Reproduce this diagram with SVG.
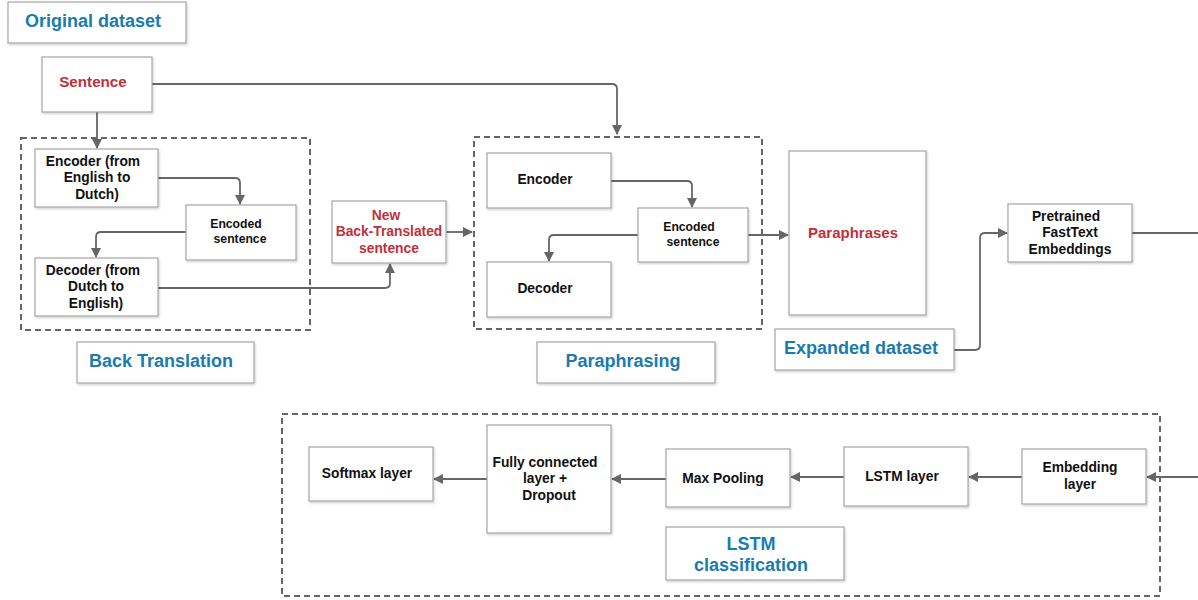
<svg xmlns="http://www.w3.org/2000/svg" width="1198" height="600" viewBox="0 0 1198 600">
<defs>
<style>
.box{fill:#fff;stroke:#a6a6a6;stroke-width:1.2;filter:url(#sh)}
.dash{fill:none;stroke:#666;stroke-width:2;stroke-dasharray:6 4}
.t{font-family:"Liberation Sans",Arial,sans-serif;font-weight:bold;text-anchor:middle;fill:#111}
.s13{font-size:13.8px}
.s11{font-size:12.2px}
.red{fill:#c0303b}
.blue{fill:#1a7bb0;font-size:18px}
.con{fill:none;stroke:#666;stroke-width:1.8;stroke-linejoin:round}
</style>
<filter id="sh" x="-10%" y="-10%" width="130%" height="130%">
<feDropShadow dx="1" dy="1.5" stdDeviation="1" flood-color="#000" flood-opacity="0.18"/>
</filter>
<marker id="ah" markerWidth="10" markerHeight="10" refX="9" refY="5" orient="auto" markerUnits="userSpaceOnUse">
<path d="M0,0 L10,5 L0,10 z" fill="#666"/>
</marker>
</defs>

<g id="frames">
<rect class="dash" x="21" y="138" width="289" height="192"/>
<rect class="dash" x="474" y="137" width="288" height="192"/>
<rect class="dash" x="282" y="414" width="878" height="182"/>
</g>

<g id="connectors">
<path class="con" d="M152 84 H612 Q617 84 617 89 V134" marker-end="url(#ah)"/>
<path class="con" d="M97 112 V148" marker-end="url(#ah)"/>
<path class="con" d="M158 178 H235 Q240 178 240 183 V204" marker-end="url(#ah)"/>
<path class="con" d="M186 232 H101 Q96 232 96 237 V257" marker-end="url(#ah)"/>
<path class="con" d="M158 288 H385 Q390 288 390 283 V264" marker-end="url(#ah)"/>
<path class="con" d="M446 232 H472" marker-end="url(#ah)"/>
<path class="con" d="M611 181 H687 Q692 181 692 186 V207" marker-end="url(#ah)"/>
<path class="con" d="M638 235 H554 Q549 235 549 240 V261" marker-end="url(#ah)"/>
<path class="con" d="M748 235 H788" marker-end="url(#ah)"/>
<path class="con" d="M954 350 H975 Q980 350 980 345 V238 Q980 233 985 233 H1007" marker-end="url(#ah)"/>
<path class="con" d="M1132 233 H1210 V477 H1147" marker-end="url(#ah)"/>
<path class="con" d="M1022 477 H969" marker-end="url(#ah)"/>
<path class="con" d="M844 477 H791" marker-end="url(#ah)"/>
<path class="con" d="M666 479 H612" marker-end="url(#ah)"/>
<path class="con" d="M487 479 H434" marker-end="url(#ah)"/>
</g>

<g id="original-dataset">
<rect class="box" x="8" y="2" width="178" height="41"/>
<text class="t blue" x="93" y="27">Original dataset</text>
</g>
<g id="sentence">
<rect class="box" x="42" y="57" width="110" height="55"/>
<text class="t red" font-size="15.2" x="93" y="87">Sentence</text>
</g>
<g id="encoder-bt">
<rect class="box" x="35" y="149" width="123" height="58"/>
<text class="t s13" x="93" y="166">Encoder (from</text>
<text class="t s13" x="97" y="182">English to</text>
<text class="t s13" x="97" y="199">Dutch)</text>
</g>
<g id="encoded-bt">
<rect class="box" x="186" y="205" width="110" height="55"/>
<text class="t s11" x="236" y="228">Encoded</text>
<text class="t s11" x="240" y="243">sentence</text>
</g>
<g id="decoder-bt">
<rect class="box" x="35" y="258" width="123" height="58"/>
<text class="t s13" x="93" y="275">Decoder (from</text>
<text class="t s13" x="96" y="291">Dutch to</text>
<text class="t s13" x="96" y="308">English)</text>
</g>
<g id="back-translated">
<rect class="box" x="332" y="201" width="114" height="62"/>
<text class="t red s13" x="386" y="220">New</text>
<text class="t red s13" x="389" y="236">Back-Translated</text>
<text class="t red s13" x="389" y="253">sentence</text>
</g>
<g id="back-translation-label">
<rect class="box" x="77" y="342" width="177" height="41"/>
<text class="t blue" x="161" y="367">Back Translation</text>
</g>
<g id="encoder-p">
<rect class="box" x="487" y="153" width="124" height="55"/>
<text class="t s13" x="545" y="184">Encoder</text>
</g>
<g id="encoded-p">
<rect class="box" x="638" y="208" width="110" height="54"/>
<text class="t s11" x="689" y="231">Encoded</text>
<text class="t s11" x="693" y="246">sentence</text>
</g>
<g id="decoder-p">
<rect class="box" x="487" y="262" width="124" height="55"/>
<text class="t s13" x="545" y="293">Decoder</text>
</g>
<g id="paraphrasing-label">
<rect class="box" x="537" y="342" width="178" height="41"/>
<text class="t blue" x="623" y="367">Paraphrasing</text>
</g>
<g id="paraphrases">
<rect class="box" x="789" y="151" width="137" height="164"/>
<text class="t red" font-size="15" x="853" y="238">Paraphrases</text>
</g>
<g id="expanded-dataset">
<rect class="box" x="775" y="329" width="179" height="41"/>
<text class="t blue" x="861" y="354">Expanded dataset</text>
</g>
<g id="fasttext">
<rect class="box" x="1008" y="204" width="124" height="58"/>
<text class="t s13" x="1066" y="221">Pretrained</text>
<text class="t s13" x="1070" y="237">FastText</text>
<text class="t s13" x="1070" y="254">Embeddings</text>
</g>
<g id="softmax">
<rect class="box" x="309" y="447" width="124" height="54"/>
<text class="t s13" x="367" y="478">Softmax layer</text>
</g>
<g id="fully-connected">
<rect class="box" x="487" y="425" width="124" height="108"/>
<text class="t s13" x="545" y="467">Fully connected</text>
<text class="t s13" x="545" y="483">layer +</text>
<text class="t s13" x="549" y="500">Dropout</text>
</g>
<g id="max-pooling">
<rect class="box" x="666" y="449" width="124" height="58"/>
<text class="t s13" x="723" y="483">Max Pooling</text>
</g>
<g id="lstm-layer">
<rect class="box" x="844" y="447" width="124" height="59"/>
<text class="t s13" x="902" y="481">LSTM layer</text>
</g>
<g id="embedding-layer">
<rect class="box" x="1022" y="449" width="124" height="55"/>
<text class="t s13" x="1080" y="472">Embedding</text>
<text class="t s13" x="1080" y="489">layer</text>
</g>
<g id="lstm-classification-label">
<rect class="box" x="666" y="527" width="178" height="53"/>
<text class="t blue" x="751" y="550">LSTM</text>
<text class="t blue" x="751" y="571">classification</text>
</g>
</svg>
